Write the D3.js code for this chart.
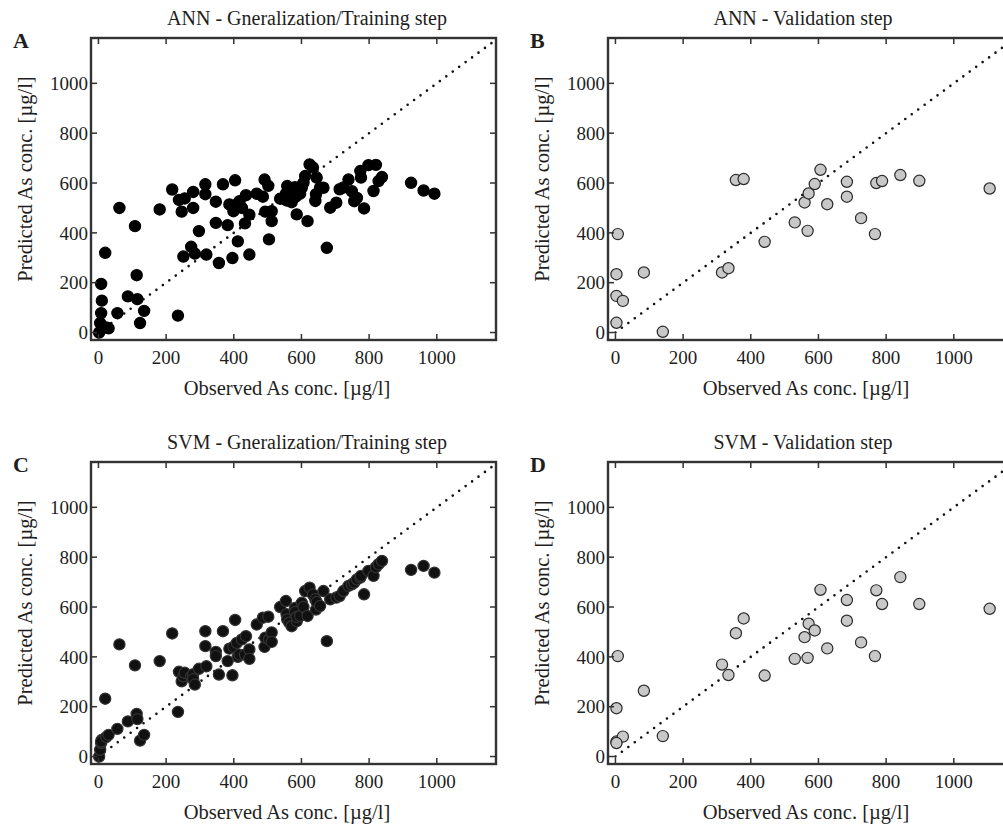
<!DOCTYPE html>
<html>
<head>
<meta charset="utf-8">
<script src="https://cdnjs.cloudflare.com/ajax/libs/d3/7.8.5/d3.min.js"></script>
<style>
  body { margin: 0; background: #fff; }
  text { font-family: "Liberation Serif", "Times New Roman", serif; fill: #1e1e1e; }
</style>
</head>
<body>
<div id="chart"></div>
<script>
// Observed / predicted arsenic concentrations (ug/l)
var obsTrain = [2, 5, 8, 10, 8, 23, 30, 20, 56, 62, 87, 108, 113, 115, 123, 135, 181, 218, 235, 238,
  246, 251, 255, 274, 280, 280, 285, 297, 316, 316, 319, 347, 347, 356, 368, 382, 387, 396, 404, 399,
  409, 412, 417, 424, 433, 436, 446, 446, 468, 486, 491, 493, 502, 504, 512, 512, 537, 554, 556, 558,
  564, 571, 581, 581, 586, 586, 596, 601, 606, 611, 618, 624, 634, 641, 643, 645, 655, 665, 675, 685,
  703, 713, 724, 739, 749, 756, 764, 774, 776, 785, 798, 813, 820, 828, 838, 924, 961, 993];
var annTrainPred = [0, 38, 78, 128, 195, 20, 17, 320, 78, 500, 145, 427, 230, 134, 38, 87, 494, 574, 68, 532,
  485, 305, 538, 344, 564, 500, 317, 407, 595, 555, 313, 525, 440, 279, 595, 431, 514, 299, 611, 487,
  514, 366, 527, 500, 438, 551, 473, 313, 557, 545, 614, 485, 589, 374, 487, 447, 537, 557, 530, 588,
  549, 523, 543, 583, 474, 549, 557, 581, 601, 628, 447, 675, 662, 528, 555, 622, 581, 581, 340, 501,
  521, 575, 582, 614, 567, 527, 540, 648, 622, 498, 672, 568, 673, 608, 624, 601, 570, 557];
var svmTrainPred = [0, 27, 54, 67, 60, 78, 87, 232, 111, 450, 141, 366, 171, 150, 64, 87, 383, 494, 179, 340,
  302, 322, 336, 322, 330, 310, 289, 352, 503, 443, 362, 420, 403, 329, 503, 383, 433, 326, 548, 440,
  456, 400, 409, 470, 409, 483, 430, 392, 530, 557, 440, 477, 561, 470, 498, 460, 600, 624, 571, 550,
  537, 523, 596, 580, 543, 560, 564, 617, 600, 664, 564, 678, 650, 631, 590, 620, 604, 664, 463, 631,
  638, 644, 664, 685, 691, 698, 711, 718, 725, 651, 745, 725, 760, 772, 785, 749, 765, 738];

var obsValid = [7, 3, 3, 22, 3, 84, 140, 315, 334, 356, 379, 441, 530, 559, 568, 571, 589, 606, 626, 684,
  684, 726, 767, 771, 788, 842, 898, 1106];
var annValidPred = [395, 234, 147, 127, 39, 241, 3, 241, 258, 612, 616, 364, 442, 522, 408, 558, 596, 653, 515, 605,
  545, 459, 395, 600, 608, 632, 609, 578];
var svmValidPred = [403, 194, 60, 80, 54, 264, 82, 369, 327, 495, 554, 325, 392, 479, 396, 533, 506, 669, 434, 628,
  545, 458, 403, 667, 612, 720, 612, 593];

var xTicks = [0, 200, 400, 600, 800, 1000];
var yTicks = [0, 200, 400, 600, 800, 1000];

var panels = [
  {letter: "A", title: "ANN - Gneralization/Training step", left: 91, top: 38, titleX: 307, xLabX: 287,
    obs: obsTrain, pred: annTrainPred, fill: "#000", stroke: "#000"},
  {letter: "B", title: "ANN - Validation step", left: 608, top: 38, titleX: 803, xLabX: 806,
    obs: obsValid, pred: annValidPred, fill: "#c8c8c8", stroke: "#2a2a2a"},
  {letter: "C", title: "SVM - Gneralization/Training step", left: 91, top: 462, titleX: 307, xLabX: 287,
    obs: obsTrain, pred: svmTrainPred, fill: "#111", stroke: "#333"},
  {letter: "D", title: "SVM - Validation step", left: 608, top: 462, titleX: 803, xLabX: 806,
    obs: obsValid, pred: svmValidPred, fill: "#c8c8c8", stroke: "#2a2a2a"}
];

var W = 1003, H = 824;
var pw = 405, ph = 302;

var svg = d3.select("#chart").append("svg")
    .attr("width", W)
    .attr("height", H);

svg.append("rect").attr("width", W).attr("height", H).attr("fill", "#fff");

var x = d3.scaleLinear().domain([-22, 1175]).range([0, pw]);
var y = d3.scaleLinear().domain([-30, 1182]).range([ph, 0]);

panels.forEach(function(p) {
  var g = svg.append("g").attr("transform", "translate(" + p.left + "," + p.top + ")");

  // 1:1 reference line
  g.append("line")
    .attr("x1", x(0)).attr("y1", y(0))
    .attr("x2", x(1175)).attr("y2", y(1175))
    .attr("stroke", "#111")
    .attr("stroke-width", 2.6)
    .attr("stroke-linecap", "round")
    .attr("stroke-dasharray", "0,8");

  // points
  g.append("g").selectAll("circle")
    .data(p.obs.map(function(o, i) { return [o, p.pred[i]]; }))
    .join("circle")
    .attr("cx", function(d) { return x(d[0]); })
    .attr("cy", function(d) { return y(d[1]); })
    .attr("r", 5.6)
    .attr("fill", p.fill)
    .attr("stroke", p.stroke)
    .attr("stroke-width", 1.2);

  // inward ticks on all four sides
  var tk = g.append("g").attr("stroke", "#333").attr("stroke-width", 1.5);
  xTicks.forEach(function(t) {
    tk.append("line").attr("x1", x(t)).attr("x2", x(t)).attr("y1", ph).attr("y2", ph - 6);
    tk.append("line").attr("x1", x(t)).attr("x2", x(t)).attr("y1", 0).attr("y2", 6);
  });
  yTicks.forEach(function(t) {
    tk.append("line").attr("y1", y(t)).attr("y2", y(t)).attr("x1", 0).attr("x2", 6);
    tk.append("line").attr("y1", y(t)).attr("y2", y(t)).attr("x1", pw).attr("x2", pw - 6);
  });

  // frame
  g.append("rect")
    .attr("width", pw).attr("height", ph)
    .attr("fill", "none")
    .attr("stroke", "#333")
    .attr("stroke-width", 2.4);

  // tick labels
  g.append("g").selectAll("text.xt")
    .data(xTicks)
    .join("text")
    .attr("x", function(d) { return x(d); })
    .attr("y", ph + 24)
    .attr("text-anchor", "middle")
    .style("font-size", "19px")
    .text(function(d) { return d; });

  g.append("g").selectAll("text.yt")
    .data(yTicks)
    .join("text")
    .attr("x", -3)
    .attr("y", function(d) { return y(d); })
    .attr("dy", "0.35em")
    .attr("text-anchor", "end")
    .style("font-size", "19px")
    .text(function(d) { return d; });

  // titles and labels
  svg.append("text")
    .attr("x", p.titleX).attr("y", p.top - 13)
    .attr("text-anchor", "middle")
    .style("font-size", "20px")
    .text(p.title);

  svg.append("text")
    .attr("x", p.left - 78).attr("y", p.top + 10)
    .style("font-size", "22px")
    .style("font-weight", "bold")
    .text(p.letter);

  svg.append("text")
    .attr("x", p.xLabX).attr("y", p.top + ph + 55)
    .attr("text-anchor", "middle")
    .style("font-size", "20.5px")
    .text("Observed As conc. [\u00b5g/l]");

  svg.append("text")
    .attr("transform", "translate(" + (p.left - 59) + "," + (p.top + 141) + ") rotate(-90)")
    .attr("text-anchor", "middle")
    .style("font-size", "20.5px")
    .text("Predicted As conc. [\u00b5g/l]");
});
</script>
</body>
</html>
